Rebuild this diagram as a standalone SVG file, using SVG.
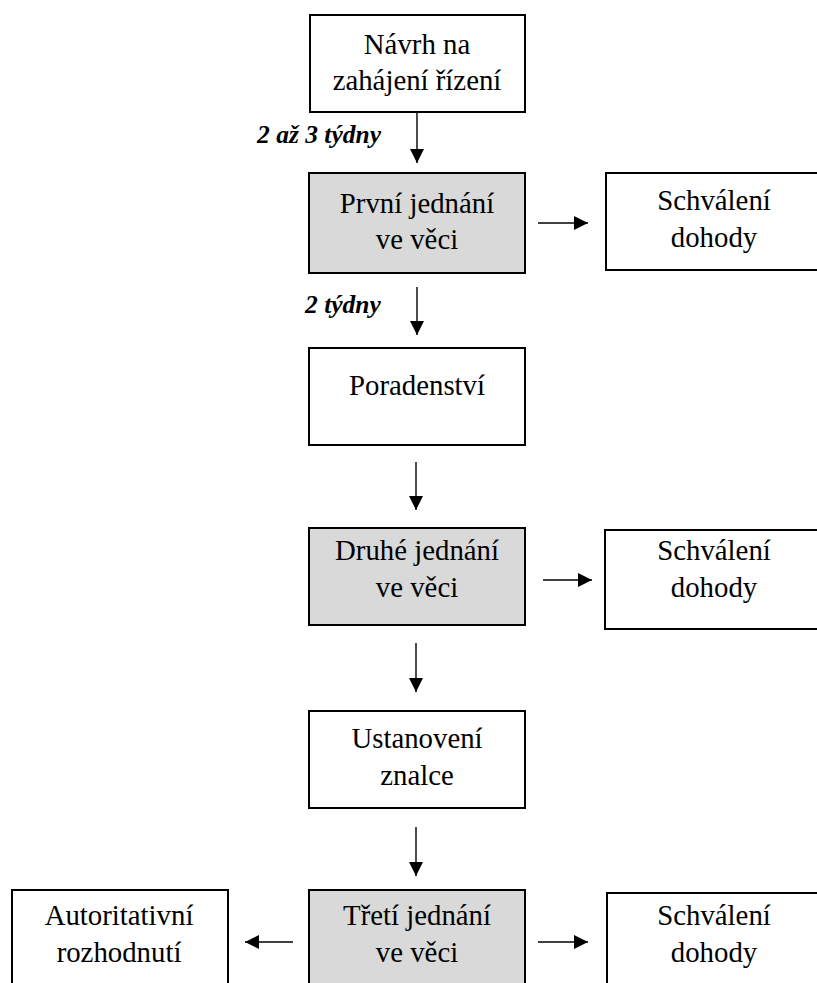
<svg xmlns="http://www.w3.org/2000/svg" width="817" height="983" viewBox="0 0 817 983">
<style>
.box{fill:#fff;stroke:#000;stroke-width:2}
.gray{fill:#d9d9d9;stroke:#000;stroke-width:2}
.t{font-family:"Liberation Serif","Times New Roman",serif;font-size:24px;fill:#000;text-anchor:middle}
.lbl{font-family:"Liberation Serif","Times New Roman",serif;font-size:25.5px;font-weight:bold;font-style:italic;fill:#000}
.c{stroke:#000;stroke-width:1.4;fill:none;marker-end:url(#ah)}
</style>
<defs>
<marker id="ah" viewBox="0 0 14 14" refX="14" refY="7" markerWidth="14" markerHeight="14" markerUnits="userSpaceOnUse" orient="auto">
<path d="M0,0 L14,7 L0,14 Z" fill="#000"/>
</marker>
</defs>
<rect width="817" height="983" fill="#fff"/>
<g id="connectors">
<line class="c" x1="417" y1="112" x2="417" y2="163"/>
<line class="c" x1="417" y1="287" x2="417" y2="335"/>
<line class="c" x1="416" y1="462" x2="416" y2="510"/>
<line class="c" x1="416" y1="643" x2="416" y2="692"/>
<line class="c" x1="416" y1="827" x2="416" y2="876"/>
<line class="c" x1="538" y1="223" x2="588" y2="223"/>
<line class="c" x1="543" y1="580" x2="592" y2="580"/>
<line class="c" x1="538" y1="942" x2="588" y2="942"/>
<line class="c" x1="293" y1="942" x2="245" y2="942"/>
<text class="lbl" x="257" y="143">2 až 3 týdny</text>
<text class="lbl" x="305" y="313">2 týdny</text>
</g>
<g id="n_navrh">
<rect class="box" x="310" y="15" width="215" height="97"/>
<text class="t" transform="translate(417,54) scale(1.2)">Návrh na</text>
<text class="t" transform="translate(417,90) scale(1.2)">zahájení řízení</text>
</g>
<g id="n_prvni">
<rect class="gray" x="309" y="173" width="216" height="100"/>
<text class="t" transform="translate(417,213) scale(1.2)">První jednání</text>
<text class="t" transform="translate(417,249) scale(1.2)">ve věci</text>
</g>
<g id="n_schvaleni1">
<rect class="box" x="606" y="173" width="215" height="97"/>
<text class="t" transform="translate(714,210) scale(1.2)">Schválení</text>
<text class="t" transform="translate(714,247) scale(1.2)">dohody</text>
</g>
<g id="n_poradenstvi">
<rect class="box" x="309" y="348" width="216" height="97"/>
<text class="t" transform="translate(417,395) scale(1.2)">Poradenství</text>
</g>
<g id="n_druhe">
<rect class="gray" x="309" y="528" width="216" height="97"/>
<text class="t" transform="translate(417,560) scale(1.2)">Druhé jednání</text>
<text class="t" transform="translate(417,597) scale(1.2)">ve věci</text>
</g>
<g id="n_schvaleni2">
<rect class="box" x="605" y="530" width="216" height="99"/>
<text class="t" transform="translate(714,560) scale(1.2)">Schválení</text>
<text class="t" transform="translate(714,597) scale(1.2)">dohody</text>
</g>
<g id="n_ustanoveni">
<rect class="box" x="309" y="711" width="216" height="97"/>
<text class="t" transform="translate(417,748) scale(1.2)">Ustanovení</text>
<text class="t" transform="translate(417,785) scale(1.2)">znalce</text>
</g>
<g id="n_treti">
<rect class="gray" x="309" y="890" width="216" height="100"/>
<text class="t" transform="translate(417,925) scale(1.2)">Třetí jednání</text>
<text class="t" transform="translate(417,962) scale(1.2)">ve věci</text>
</g>
<g id="n_autoritativni">
<rect class="box" x="12" y="890" width="216" height="100"/>
<text class="t" transform="translate(119,925) scale(1.2)">Autoritativní</text>
<text class="t" transform="translate(119,962) scale(1.2)">rozhodnutí</text>
</g>
<g id="n_schvaleni3">
<rect class="box" x="607" y="893" width="216" height="100"/>
<text class="t" transform="translate(714,925) scale(1.2)">Schválení</text>
<text class="t" transform="translate(714,962) scale(1.2)">dohody</text>
</g>
</svg>
